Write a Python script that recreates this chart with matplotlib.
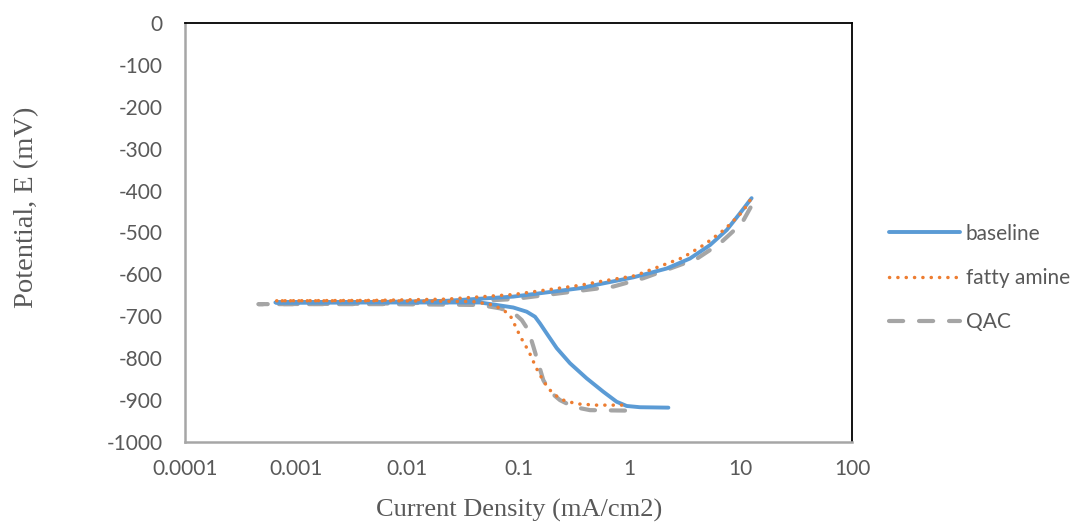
import matplotlib
matplotlib.use("Agg")
import matplotlib.pyplot as plt

plt.rcParams["axes.unicode_minus"] = False

# Polarization data: current density (mA/cm2) and potential (mV)
# Cathodic branches (from the corrosion potential downwards)
baseline_i = [0.00065, 0.002, 0.006, 0.02, 0.0451, 0.0637, 0.0898, 0.1185, 0.1407, 0.156,
              0.1794, 0.2207, 0.2904, 0.41, 0.579, 0.764, 0.94, 1.238, 2.23]
baseline_e = [-667, -667, -667, -667, -667, -673, -679, -689, -701, -717,
              -741, -776, -812, -848, -880, -904, -914, -917, -918]
# Anodic branches (from the corrosion potential upwards)
baseline_anodic_i = [0.00065, 0.005, 0.0226, 0.0898, 0.357, 0.541, 1.08, 2.15, 3.49, 5.28,
                     7.47, 9.83, 12.5]
baseline_anodic_e = [-667, -666, -663, -653, -633, -623, -607, -586, -562, -530,
                     -494, -454, -418]

amine_i = [0.00065, 0.002, 0.006, 0.02, 0.0392, 0.0593, 0.0729, 0.0838, 0.0898, 0.0975,
           0.1047, 0.1144, 0.124, 0.133, 0.1436, 0.156, 0.1695, 0.1853, 0.213, 0.253,
           0.334, 0.505, 0.847]
amine_e = [-663, -663, -663, -664, -665, -673, -685, -697, -713, -733,
           -750, -768, -784, -802, -822, -840, -856, -872, -888, -900,
           -909, -912, -912]
amine_anodic_i = [0.00065, 0.005, 0.0226, 0.0898, 0.357, 0.541, 1.12, 3.0, 4.75, 7.2,
                  10.4, 12.6]
amine_anodic_e = [-663, -662, -659, -648, -626, -617, -603, -560, -528, -492,
                  -450, -416]

qac_i = [0.000457, 0.002, 0.006, 0.02, 0.0451, 0.0682, 0.0898, 0.107, 0.1225, 0.136,
         0.1507, 0.167, 0.192, 0.236, 0.311, 0.44, 0.908]
qac_e = [-671, -671, -671, -672, -673, -681, -691, -709, -733, -772,
         -812, -852, -880, -900, -916, -924, -925]
qac_anodic_i = [0.000457, 0.005, 0.0226, 0.0898, 0.357, 0.713, 1.33, 2.15, 4.0, 6.49,
                10.2, 12.9]
qac_anodic_e = [-671, -670, -667, -659, -639, -629, -609, -589, -563, -526,
                -478, -429]

x_ticks = [0.0001, 0.001, 0.01, 0.1, 1, 10, 100]
x_tick_labels = ["0.0001", "0.001", "0.01", "0.1", "1", "10", "100"]
y_ticks = list(range(-1000, 1, 100))


def branch(ci, ce, ai, ae):
    """Join the cathodic and anodic branches of one scan at the start point."""
    return ci[::-1] + ai[1:], ce[::-1] + ae[1:]


blue = "#5B9BD5"
orange = "#ED7D31"
gray = "#A5A5A5"
text_gray = "#595959"
tick_font = "Lato"
serif = "Liberation Serif"
W, H = 1080, 523

fig = plt.figure(figsize=(10.8, 5.23), dpi=100)
ax = fig.add_axes([185 / W, 1 - 442 / H, 667 / W, 419 / H])

bx, by = branch(baseline_i, baseline_e, baseline_anodic_i, baseline_anodic_e)
fx, fy = branch(amine_i, amine_e, amine_anodic_i, amine_anodic_e)
qx, qy = branch(qac_i, qac_e, qac_anodic_i, qac_anodic_e)

ax.plot(bx, by, color=blue, lw=2.8, solid_capstyle="round", solid_joinstyle="round",
        label="baseline", zorder=3)
ax.plot(fx, fy, color=orange, lw=2.5, linestyle=(0, (0.05, 2.35)), dash_capstyle="round",
        label="fatty amine", zorder=4)
ax.plot(qx, qy, color=gray, lw=3.0, linestyle=(0, (3.4, 3.8)), dash_capstyle="round",
        label="QAC", zorder=2)

ax.set_xscale("log")
ax.set_xlim(0.0001, 100)
ax.set_ylim(-1000, 0)
ax.set_xticks(x_ticks)
ax.set_xticklabels(x_tick_labels)
ax.set_yticks(y_ticks)
ax.minorticks_off()
ax.tick_params(axis="both", length=0, labelsize=15, labelcolor=text_gray)
ax.tick_params(axis="y", pad=16)
ax.tick_params(axis="x", pad=12)
for lbl in ax.get_xticklabels() + ax.get_yticklabels():
    lbl.set_fontfamily(tick_font)

for side in ("top", "right"):
    ax.spines[side].set_color("black")
    ax.spines[side].set_linewidth(1.3)
for side in ("left", "bottom"):
    ax.spines[side].set_color("#A6A6A6")
    ax.spines[side].set_linewidth(1.8)

# Axis titles
fig.text(519 / W, 1 - 510 / H, "Current Density (mA/cm2)", fontsize=19, color=text_gray,
         fontfamily=serif, ha="center", va="center")
fig.text(27 / W, 1 - 207 / H, "Potential, E (mV)", fontsize=20.5, color=text_gray,
         fontfamily=serif, ha="center", va="center", rotation=90)

leg = fig.legend(loc="center left", bbox_to_anchor=(870 / W, 1 - 278 / H), frameon=False,
                 handlelength=3.4, handletextpad=0.3, labelspacing=1.17,
                 prop={"family": tick_font, "size": 15})
for t in leg.get_texts():
    t.set_color(text_gray)

fig.savefig("out.png", dpi=100)
